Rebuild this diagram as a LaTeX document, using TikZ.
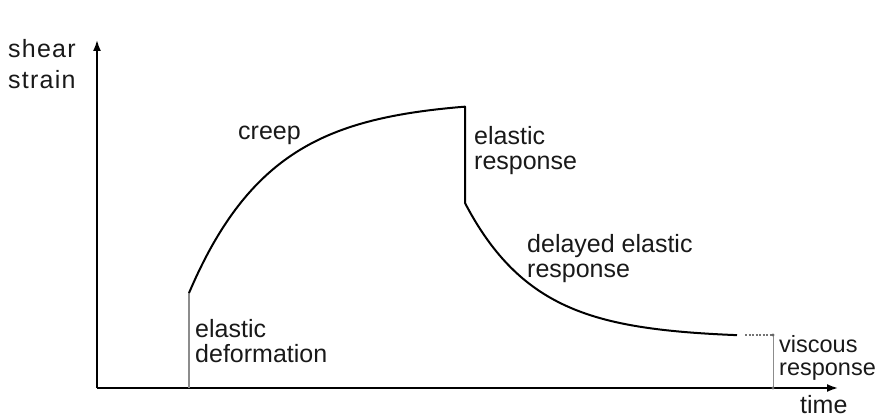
\documentclass[tikz,border=0pt]{standalone}
\usepackage{fontspec}
\setmainfont{Liberation Sans}
\usetikzlibrary{arrows.meta}
\newcommand\mylines[3][0pt]{\begin{tabular}[t]{@{}l@{}}#2\\[#1]#3\end{tabular}}
\begin{document}
\begin{tikzpicture}[x=1pt,y=-1pt,
  axis/.style={line width=1.8pt, -{Latex[length=11pt,width=8pt]}},
  curve/.style={line width=2pt, black, line join=round},
  guide/.style={line width=1.3pt, black!45},
  dotline/.style={line width=1.2pt, black!55, dash pattern=on 2pt off 1.5pt},
  lbl/.style={anchor=base west, inner sep=0pt, font=\fontsize{25}{25}\selectfont, text=black!90}]
\useasboundingbox (0,0) rectangle (879,417);

% axes
\coordinate (O) at (97,388);
\coordinate (Ytip) at (97,40);
\coordinate (Xtip) at (838,388);
\draw[axis] (O) -- (Ytip);
\draw[axis] (O) -- (Xtip);

% elastic deformation
\coordinate (E0) at (189,388);
\coordinate (E1) at (189,293);
\draw[guide] (E0) -- (E1);

% creep, elastic response, delayed elastic response
\coordinate (C1) at (465,106.7);
\coordinate (R1) at (465,203);
\coordinate (D1) at (737,335.2);
\draw[curve] plot[domain=189:465, samples=120] (\x,{293-193*(1-exp(-(\x-189)/82))})
  -- (R1)
  -- plot[domain=465:737, samples=120] (\x,{203+135*(1-exp(-(\x-465)/70.5))});

% viscous response
\coordinate (V0) at (745,335);
\coordinate (V1) at (773,335);
\coordinate (V2) at (773,388);
\draw[dotline] (V0) -- (V1);
\draw[guide, line width=1pt] (V1) -- (V2);
\fill[black!60] (V1) circle (1.6pt) (V2) circle (1.6pt);

% labels
\node[lbl] (lshear) at (8,58) {\addfontfeatures{LetterSpace=5}\mylines[5pt]{shear}{strain}};
\node[lbl] (lcreep) at (238,140) {creep};
\node[lbl] (lelresp) at (474,145) {\mylines{elastic}{response}};
\node[lbl] (ldelay) at (527,252) {\mylines{delayed elastic}{response}};
\node[lbl] (ldeform) at (195,337) {\mylines{elastic}{deformation}};
\node[lbl, font=\fontsize{23.5}{23.5}\selectfont] (lvisc) at (779,352) {\mylines{viscous}{response}};
\node[lbl] (ltime) at (800,413) {time};
\end{tikzpicture}
\end{document}
